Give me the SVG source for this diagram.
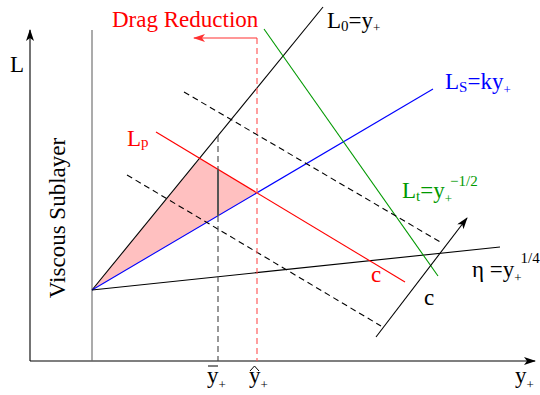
<svg xmlns="http://www.w3.org/2000/svg" width="540" height="395" viewBox="0 0 540 395">
<style>
text{font-family:"Liberation Serif","Times New Roman",serif;font-size:23px}
.ln{fill:none;stroke-width:1.1}
.dash{stroke-dasharray:6 4}
</style>
<defs>
<marker id="ah" markerWidth="12" markerHeight="8" refX="11" refY="4" orient="auto" markerUnits="userSpaceOnUse"><path d="M0,0 L12,4 L0,8 L3,4 Z" fill="#000"/></marker>
<marker id="ahr" markerWidth="12" markerHeight="8" refX="11" refY="4" orient="auto" markerUnits="userSpaceOnUse"><path d="M0,0 L12,4 L0,8 L3,4 Z" fill="#ff3030"/></marker>
</defs>
<rect width="540" height="395" fill="#fff"/>
<g id="region">
<polygon points="92,290 200,158.6 257,193" fill="#ffc0c0"/>
</g>
<g id="connectors">
<line class="ln" x1="30" y1="361" x2="30" y2="30" stroke="#000" stroke-width="1.3" marker-end="url(#ah)"/>
<line class="ln" x1="30" y1="361" x2="535" y2="361" stroke="#000" stroke-width="1.3" marker-end="url(#ah)"/>
<line class="ln" x1="92" y1="30" x2="92" y2="361" stroke="#666" stroke-width="1.5"/>
<line class="ln" x1="92" y1="290" x2="323" y2="7" stroke="#000"/>
<line class="ln" x1="92" y1="290" x2="433" y2="89" stroke="#0000ff"/>
<line class="ln" x1="92" y1="290" x2="500" y2="247" stroke="#000"/>
<line class="ln" x1="156" y1="132" x2="405" y2="282" stroke="#ff0000"/>
<line class="ln" x1="264" y1="29" x2="438" y2="276" stroke="#009900"/>
<line class="ln dash" x1="184" y1="92" x2="442" y2="243" stroke="#000"/>
<line class="ln dash" x1="127" y1="175" x2="381" y2="326" stroke="#000"/>
<line class="ln" x1="376" y1="337" x2="467" y2="218" stroke="#000" marker-end="url(#ah)"/>
<line class="ln dash" x1="218" y1="136" x2="218" y2="361" stroke="#444"/>
<line x1="218" y1="170" x2="218" y2="216" stroke="#555" stroke-width="2"/>
<line class="ln dash" x1="257" y1="38" x2="257" y2="361" stroke="#ff5050" stroke-width="1.3"/>
<path class="ln" d="M257,38 H194" stroke="#ff3030" stroke-width="1.3" marker-end="url(#ahr)"/>
</g>
<g id="labels">
<text x="112" y="27" fill="#ff0000">Drag Reduction</text>
<text x="10" y="72">L</text>
<text transform="translate(65,218) rotate(-90)" text-anchor="middle" font-size="19">Viscous Sublayer</text>
<text x="327" y="28">L<tspan font-size="15" dy="3">0</tspan><tspan dy="-3">=y</tspan><tspan font-size="13" dy="4">+</tspan></text>
<text x="445" y="89" fill="#0000ff">L<tspan font-size="15" dy="3">S</tspan><tspan dy="-3">=ky</tspan><tspan font-size="13" dy="5">+</tspan></text>
<text x="127" y="146" fill="#ff0000">L<tspan font-size="15" dy="1">p</tspan></text>
<text x="402" y="198" fill="#009900">L<tspan font-size="15" dy="3">t</tspan><tspan dy="-3">=y</tspan><tspan font-size="13" dy="5">+</tspan><tspan font-size="15" dx="-2" dy="-17">−1/2</tspan></text>
<text x="371" y="282" fill="#ff0000">c</text>
<text x="424" y="305">c</text>
<text x="472" y="277">η =y<tspan font-size="13" dy="5">+</tspan><tspan font-size="15" dx="-1" dy="-19">1/4</tspan></text>
<text x="515" y="383">y<tspan font-size="13" dy="6">+</tspan></text>
<text x="207" y="383">y<tspan font-size="13" dy="6">+</tspan></text>
<line x1="208" y1="366" x2="218" y2="366" stroke="#000" stroke-width="1"/>
<text x="249" y="383">y<tspan font-size="13" dy="6">+</tspan></text>
<path d="M250,371 L254.5,366 L259,371" fill="none" stroke="#000" stroke-width="1"/>
</g>
</svg>
